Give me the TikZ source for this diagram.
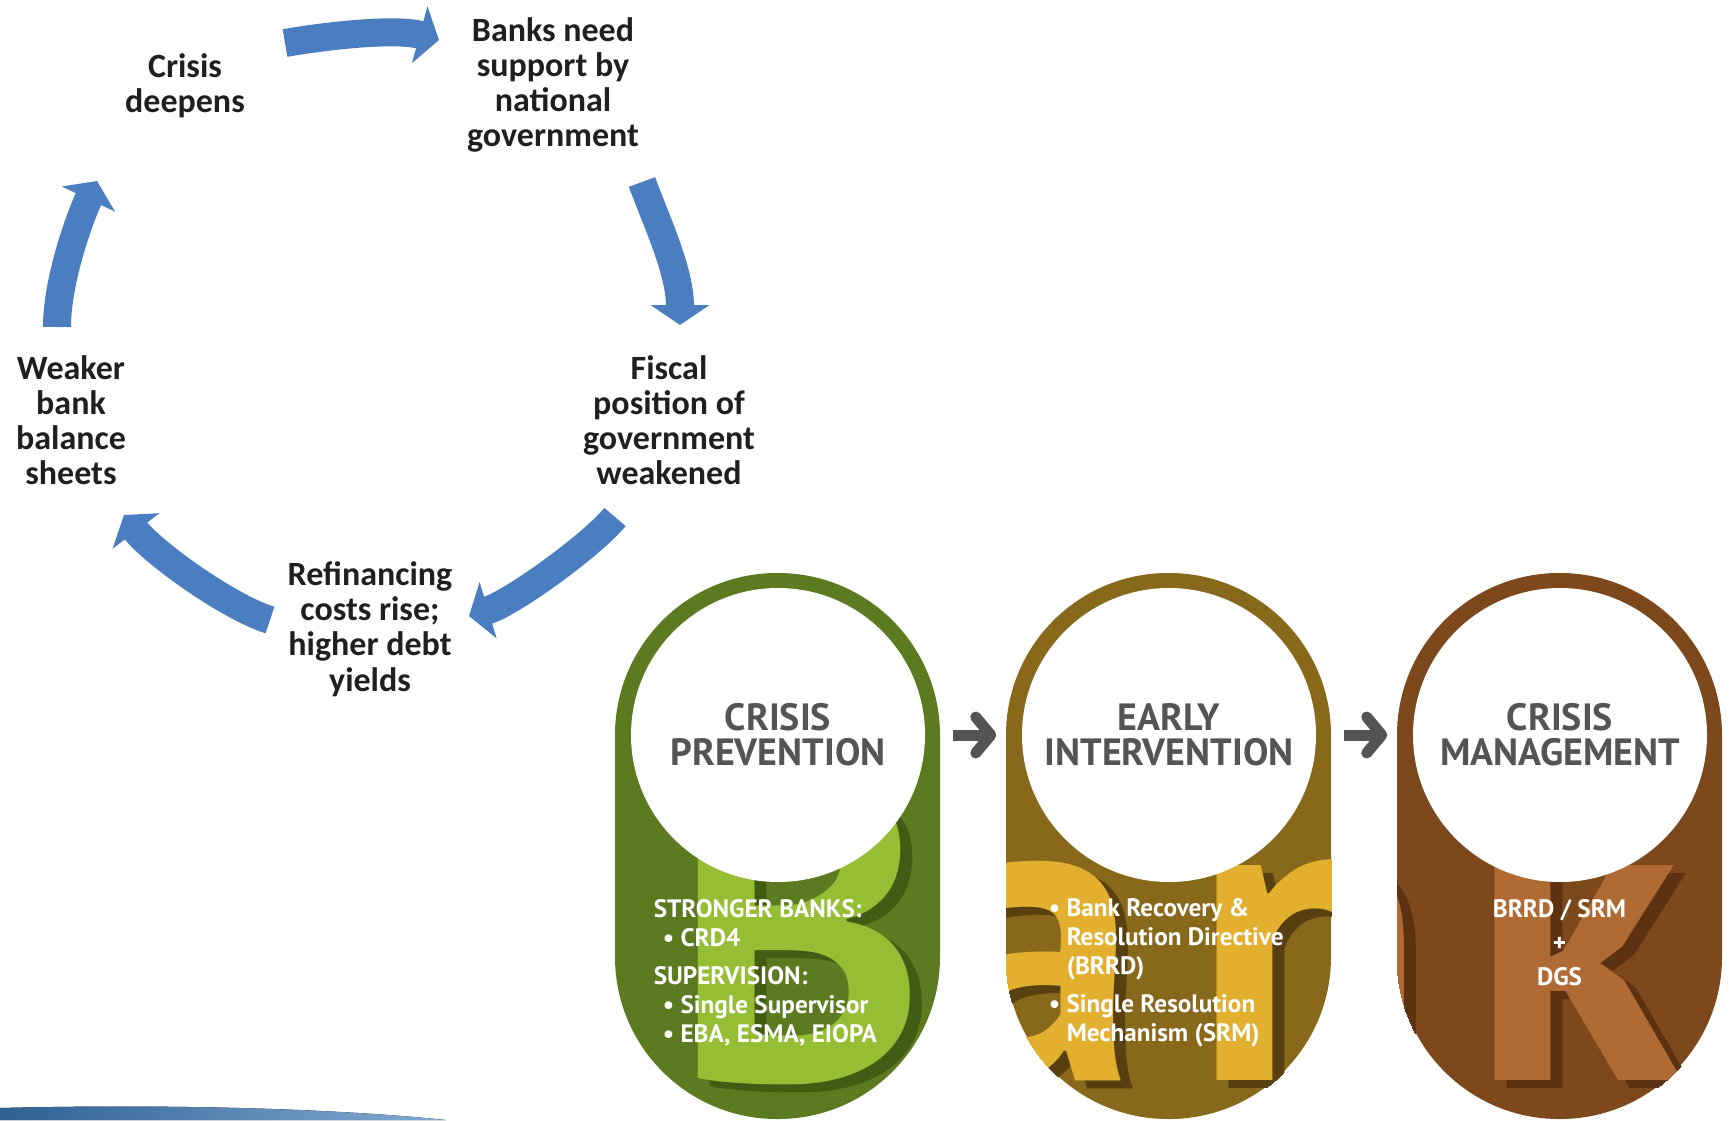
\documentclass[tikz,border=0pt]{standalone}
\usepackage{fontspec}
\setmainfont{Carlito}
\newfontfamily\pillfont{PT Sans}
\usetikzlibrary{arrows.meta}

\definecolor{cycblue}{RGB}{74,126,193}
\definecolor{titlegray}{RGB}{84,84,86}
\definecolor{prevring}{RGB}{92,122,32}
\definecolor{prevface}{RGB}{150,190,52}
\definecolor{prevshade}{RGB}{66,92,20}
\definecolor{earlyring}{RGB}{136,104,26}
\definecolor{earlyface}{RGB}{226,176,46}
\definecolor{earlyshade}{RGB}{88,64,16}
\definecolor{mgmtring}{RGB}{124,72,28}
\definecolor{mgmtface}{RGB}{176,106,52}
\definecolor{mgmtshade}{RGB}{92,50,18}
\definecolor{swooshdark}{RGB}{46,96,146}
\definecolor{swooshlight}{RGB}{130,170,210}

\tikzset{every picture/.style={line width=0.75pt}}

% big letters of "Bank" seen through the pills
\newcommand\bankletters[2]{%
  \foreach \ch/\x in {B/672,a/925,n/1192,k/1470}{
    \node[bigletter, text=#2] (sh-\ch) at (\x+12,1088) {\ch};
    \node[bigletter, text=#1] (lt-\ch) at (\x,1080) {\ch};
  }}

\begin{document}
\begin{tikzpicture}[x=0.5pt,y=0.5pt,yscale=-1,xscale=1,
  cyctext/.style={font=\bfseries\fontsize{17}{17.6}\selectfont, text=black!88, align=center, inner sep=0pt},
  cycarrow/.style={draw=cycblue, line width=14pt, -{Triangle[length=10pt,width=29pt]}},
  pill/.style={rounded corners=81pt, minimum width=162.5pt, minimum height=273pt, inner sep=0pt},
  disc/.style={circle, fill=white, minimum size=147pt, inner sep=0pt, align=center, text=titlegray, font=\pillfont\bfseries\fontsize{19}{17.5}\selectfont},
  pilltext/.style={text=white, inner sep=0pt, font=\pillfont\bfseries\fontsize{12.6}{14.5}\selectfont},
  steparrow/.style={draw=titlegray, line width=5.5pt, -{Straight Barb[length=7.5pt,width=18pt,round]}},
  bigletter/.style={anchor=base west, inner sep=0pt, font=\pillfont\bfseries\fontsize{215}{215}\selectfont}]
\useasboundingbox (0,0) rectangle (1729,1120);

% Cycle labels
\node[cyctext] (deep) at (185,86) {Crisis\\deepens};
\node[cyctext] (banks) at (553,85) {Banks need\\support by\\national\\government};
\node[cyctext] (fiscal) at (669,420) {Fiscal\\position of\\government\\weakened};
\node[cyctext] (refin) at (370,629) {Refinancing\\costs rise;\\higher debt\\yields};
\node[cyctext] (weaker) at (71,420) {Weaker\\bank\\balance\\sheets};

% Cycle arrows
\coordinate (a1) at (285,43);  \coordinate (b1) at (439,40);
\coordinate (a2) at (642,182); \coordinate (b2) at (680,325);
\coordinate (a3) at (615,517); \coordinate (b3) at (469,616);
\coordinate (a4) at (270,620); \coordinate (b4) at (124,515);
\coordinate (a5) at (57,327);  \coordinate (b5) at (97,181);
\draw[cycarrow] (a1) .. controls (325,36) and (395,28) .. (b1);
\draw[cycarrow] (a2) .. controls (655,218) and (680,270) .. (b2);
\draw[cycarrow] (a3) .. controls (592,545) and (512,603) .. (b3);
\draw[cycarrow] (a4) .. controls (228,607) and (152,552) .. (b4);
\draw[cycarrow] (a5) .. controls (57,280) and (80,217) .. (b5);

% Pills
\node[pill, fill=prevring] (prev) at (777.5,846) {};
\begin{scope}
\clip[rounded corners=81pt] (prev.south west) rectangle (prev.north east);
\bankletters{prevface}{prevshade}
\end{scope}
\node[disc] (c1) at (778,735) {CRISIS\\PREVENTION};

\node[pill, fill=earlyring] (early) at (1168.5,846) {};
\begin{scope}
\clip[rounded corners=81pt] (early.south west) rectangle (early.north east);
\bankletters{earlyface}{earlyshade}
\end{scope}
\node[disc] (c2) at (1169,735) {EARLY\\INTERVENTION};

\node[pill, fill=mgmtring] (mgmt) at (1559.5,846) {};
\begin{scope}
\clip[rounded corners=81pt] (mgmt.south west) rectangle (mgmt.north east);
\bankletters{mgmtface}{mgmtshade}
\end{scope}
\node[disc] (c3) at (1560,735) {CRISIS\\MANAGEMENT};

\draw[steparrow, shorten <=13.5pt, shorten >=12.5pt] (c1) -- (c2);
\draw[steparrow, shorten <=13.5pt, shorten >=12.5pt] (c2) -- (c3);

% Pill texts
\node[pilltext, anchor=north west, align=left] (t1) at (653,899) {STRONGER BANKS:\\\hspace*{4.5pt}• CRD4\\[4.5pt]SUPERVISION:\\\hspace*{4.5pt}• Single Supervisor\\\hspace*{4.5pt}• EBA, ESMA, EIOPA};
\node[pilltext, anchor=north west, align=left] (t2) at (1048,898) {• Bank Recovery \&\\\hspace*{9pt}Resolution Directive\\\hspace*{9pt}(BRRD)\\[4.5pt]• Single Resolution\\\hspace*{9pt}Mechanism (SRM)};
\node[pilltext, anchor=north, align=center] (t3) at (1559.5,899) {BRRD / SRM\\[2.5pt]+\\[2.5pt]DGS};

% bottom swoosh
\fill[left color=swooshdark, right color=swooshlight] (0,1108) .. controls (160,1104) and (330,1108) .. (446,1120) -- (0,1120) -- cycle;

\end{tikzpicture}
\end{document}
